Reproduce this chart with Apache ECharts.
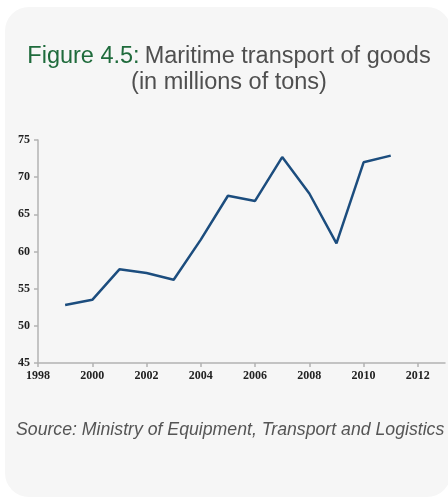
<!DOCTYPE html>
<html>
<head>
<meta charset="utf-8">
<script src="https://cdn.jsdelivr.net/npm/echarts@6/dist/echarts.min.js"></script>
<style>
  html, body { margin: 0; padding: 0; background: #ffffff; }
  #chart { width: 448px; height: 498px; }
</style>
</head>
<body>
<div id="chart"></div>
<script>
// years and tonnage (millions of tons)
const years = [1999, 2000, 2001, 2002, 2003, 2004, 2005, 2006, 2007, 2008, 2009, 2010, 2011]
const tons = [52.8, 53.5, 57.6, 57.1, 56.2, 61.6, 67.5, 66.8, 72.7, 67.8, 61.1, 72.0, 72.9]
const xTicks = [1998, 2000, 2002, 2004, 2006, 2008, 2010, 2012]
const yTicks = [45, 50, 55, 60, 65, 70, 75]

const chart = echarts.init(document.getElementById('chart'))
chart.setOption({
  animation: false,
  graphic: [
    {
      type: 'rect',
      z: -10,
      shape: { x: 5, y: 7, width: 446, height: 490, r: 24 },
      style: { fill: '#f6f6f6' }
    }
  ],
  title: [
    {
      text: '{g|Figure 4.5:} {d|Maritime transport of goods}\n{d|(in millions of tons)}',
      left: 229,
      top: 44,
      padding: 0,
      textAlign: 'center',
      textStyle: {
        fontWeight: 'normal',
        rich: {
          g: { color: '#1f6b3c', fontSize: 23.5, fontFamily: 'Liberation Sans', lineHeight: 26 },
          d: { color: '#4f4f4f', fontSize: 23.5, fontFamily: 'Liberation Sans', lineHeight: 26 }
        }
      }
    },
    {
      // source line under the plot
      text: 'Source: Ministry of Equipment, Transport and Logistics',
      left: 16,
      top: 421,
      padding: 0,
      textStyle: {
        color: '#555555',
        fontSize: 17.7,
        fontStyle: 'italic',
        fontWeight: 'normal',
        fontFamily: 'Liberation Sans'
      }
    }
  ],
  grid: { left: 38, right: 3, top: 140, bottom: 135 },
  xAxis: {
    type: 'value',
    min: 1998,
    max: 2013,
    interval: 2,
    splitLine: { show: false },
    axisLine: { lineStyle: { color: '#b3b3b3', width: 1.5 } },
    axisTick: { show: true, length: 4, customValues: xTicks, lineStyle: { color: '#b3b3b3', width: 1.5 } },
    axisLabel: {
      customValues: xTicks,
      formatter: v => String(v),
      margin: 7,
      color: '#222',
      fontFamily: 'Liberation Serif',
      fontWeight: 'bold',
      fontSize: 12
    }
  },
  yAxis: {
    type: 'value',
    min: 45,
    max: 75,
    interval: 5,
    splitLine: { show: false },
    axisLine: { show: true, lineStyle: { color: '#b3b3b3', width: 1.5 } },
    axisTick: { show: true, length: 4, lineStyle: { color: '#b3b3b3', width: 1.5 } },
    axisLabel: {
      customValues: yTicks,
      margin: 8,
      color: '#222',
      fontFamily: 'Liberation Serif',
      fontWeight: 'bold',
      fontSize: 12
    }
  },
  series: [
    {
      type: 'line',
      data: years.map((y, i) => [y, tons[i]]),
      symbol: 'none',
      lineStyle: { color: '#1c4d7e', width: 2.5 }
    }
  ]
})
</script>
</body>
</html>
